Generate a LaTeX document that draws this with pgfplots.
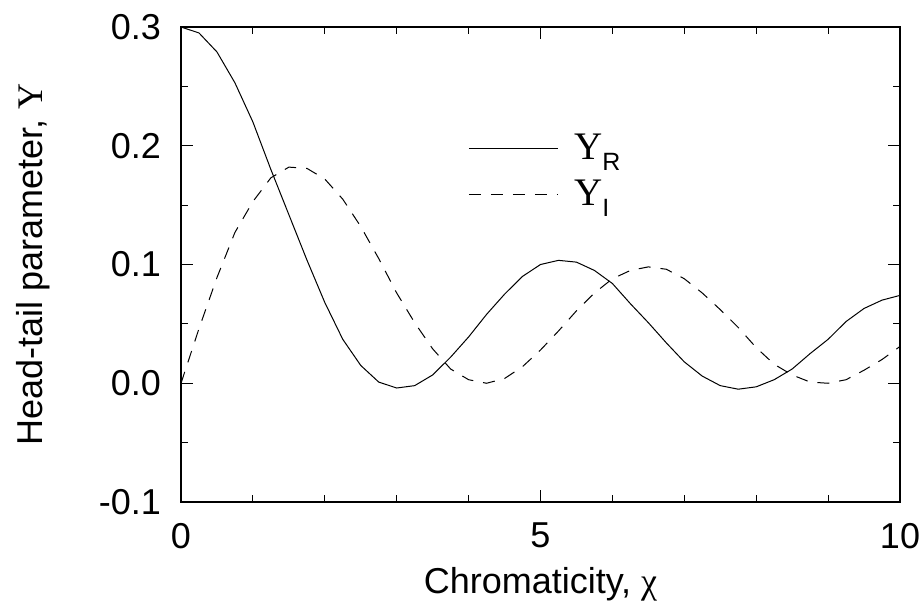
\documentclass[border=0pt]{standalone}
\usepackage{fontspec}
\setmainfont{Liberation Sans}
\newfontfamily\seriffont{Liberation Serif}
\usepackage{pgfplots}
\pgfplotsset{compat=1.18}
\newcommand\bigf{\fontsize{18}{21}\selectfont}
\begin{document}
\begin{tikzpicture}
\begin{axis}[
  name=ax,
  scale only axis,
  width=359.5pt, height=237.5pt,
  xmin=0, xmax=10, ymin=-0.1, ymax=0.3,
  xtick={0,5,10}, xticklabels={0,5,10},
  minor xtick={1,2,3,4,6,7,8,9},
  ytick={-0.1,0,0.1,0.2,0.3}, yticklabels={-0.1,0.0,0.1,0.2,0.3},
  minor ytick={-0.05,0.05,0.15,0.25},
  tick align=inside, tick pos=both,
  major tick length=6pt, minor tick length=3.5pt,
  every tick/.style={black, line width=0.5pt},
  axis line style={line width=0.6pt},
  tick label style={font=\bigf},
  xticklabel style={yshift=-7pt},
  yticklabel style={xshift=-6.5pt},
  label style={font=\bigf},
  xlabel={Chromaticity, {\seriffont χ}},
  ylabel={Head-tail parameter, {\seriffont Y}},
  xlabel style={at={(axis description cs:0.5,0)}, anchor=base, yshift=-45.5pt},
  ylabel style={at={(axis description cs:-0.1933,0.5)}, anchor=base, rotate=0},
  legend cell align=left,
  legend style={draw=none, fill=none, inner sep=0pt, at={(axis cs:3.99,0.2137)}, anchor=north west, font=\bigf, row sep=5pt},
  legend image code/.code={\draw[#1] (0pt,0pt) -- (44.5pt,0pt);},
]
\addplot[black, line width=0.5pt] coordinates {
(0,0.300) (0.25,0.295) (0.5,0.279) (0.75,0.253) (1.0,0.220) (1.25,0.180)
(1.5,0.142) (1.75,0.104) (2.0,0.068) (2.25,0.037) (2.5,0.015) (2.75,0.001)
(3.0,-0.004) (3.25,-0.002) (3.5,0.007) (3.75,0.022) (4.0,0.039) (4.25,0.058)
(4.5,0.075) (4.75,0.090) (5.0,0.100) (5.25,0.1035) (5.5,0.102) (5.75,0.095)
(6.0,0.084) (6.25,0.067) (6.5,0.051) (6.75,0.034) (7.0,0.018) (7.25,0.006)
(7.5,-0.002) (7.75,-0.005) (8.0,-0.003) (8.25,0.003) (8.5,0.012) (8.75,0.025)
(9.0,0.037) (9.25,0.052) (9.5,0.063) (9.75,0.070) (10,0.074)
};
\addlegendentry{\hspace{6pt}{\seriffont\fontsize{19.5}{19}\selectfont Y}\raisebox{-5.5pt}{\fontsize{12.5}{13}\selectfont R}}
\addplot[black, line width=0.5pt, dash pattern=on 6pt off 5pt] coordinates {
(0,0) (0.25,0.046) (0.5,0.089) (0.75,0.127) (1.0,0.153) (1.25,0.173)
(1.5,0.182) (1.75,0.181) (2.0,0.172) (2.25,0.155) (2.5,0.132) (2.75,0.105)
(3.0,0.076) (3.25,0.051) (3.5,0.029) (3.75,0.012) (4.0,0.003) (4.25,0.000)
(4.5,0.004) (4.75,0.014) (5.0,0.028) (5.25,0.044) (5.5,0.061) (5.75,0.076)
(6.0,0.088) (6.25,0.095) (6.5,0.098) (6.75,0.096) (7.0,0.088) (7.25,0.076)
(7.5,0.062) (7.75,0.047) (8.0,0.030) (8.25,0.016) (8.5,0.007) (8.75,0.001)
(9.0,0.000) (9.25,0.003) (9.5,0.011) (9.75,0.020) (10,0.031)
};
\addlegendentry{\hspace{6pt}{\seriffont\fontsize{19.5}{19}\selectfont Y}\raisebox{-5.5pt}{\fontsize{12.5}{13}\selectfont I}}
\end{axis}
\pgfresetboundingbox
\path[use as bounding box] ([shift={(-90.5pt,-49.5pt)}]ax.south west) rectangle ([shift={(11.5pt,13.5pt)}]ax.north east);
\end{tikzpicture}
\end{document}
